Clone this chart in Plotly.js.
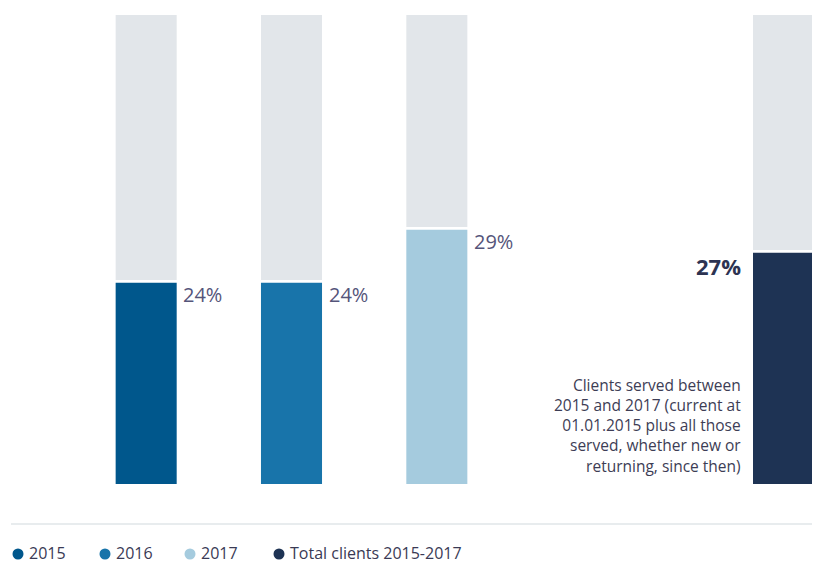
<!DOCTYPE html>
<html>
<head>
<meta charset="utf-8">
<script src="https://cdn.plot.ly/plotly-3.0.1.min.js"></script>
<style>html,body{margin:0;padding:0;background:#fff;}#chart{width:813px;height:564px;}</style>
</head>
<body>
<div id="chart"></div>
<script>
// ---- data ----
const categories = ['2015', '2016', '2017'];
const shareLabels = [24, 24, 29];            // printed percentages
const barFill = [42.9, 42.9, 54.2];          // drawn coloured share of each bar (as read)
const totalCategory = ['Total clients 2015-2017'];
const totalLabel = [27];
const totalFill = [49.3];
const legendLabels = ['2015', '2016', '2017', 'Total clients 2015-2017'];
const noteLines = ['Clients served between', '2015 and 2017 (current at', '01.01.2015 plus all those', 'served, whether new or', 'returning, since then)'];

// ---- styles ----
const colors = ['#00578c', '#1874aa', '#a5cbde'];
const totalColor = '#1e3354';
const grey = '#e2e6ea';
const gap = 0.6;
const W = 813, H = 564;
const font = 'Open Sans, Lato, sans-serif';

const traces = [
  { type: 'bar', x: categories, y: barFill, marker: { color: colors }, width: 0.42,
    xaxis: 'x', yaxis: 'y', hoverinfo: 'none', showlegend: false },
  { type: 'bar', x: categories, y: barFill.map(v => 100 - v - gap), base: barFill.map(v => v + gap),
    marker: { color: grey }, width: 0.42, xaxis: 'x', yaxis: 'y', hoverinfo: 'none', showlegend: false },
  { type: 'bar', x: totalCategory, y: totalFill, marker: { color: totalColor }, width: 1,
    xaxis: 'x2', yaxis: 'y', hoverinfo: 'none', showlegend: false },
  { type: 'bar', x: totalCategory, y: totalFill.map(v => 100 - v - gap), base: totalFill.map(v => v + gap),
    marker: { color: grey }, width: 1, xaxis: 'x2', yaxis: 'y', hoverinfo: 'none', showlegend: false }
];

const annotations = [];
categories.forEach((c, i) => {
  annotations.push({ xref: 'x', yref: 'y', x: i, y: barFill[i], text: shareLabels[i] + '%',
    showarrow: false, xanchor: 'left', yanchor: 'middle', xshift: 35, yshift: -12,
    font: { family: font, size: 20, color: '#55557a' } });
});
annotations.push({ xref: 'x2', yref: 'y', x: 0, y: totalFill[0], text: '<b>' + totalLabel[0] + '%</b>',
  showarrow: false, xanchor: 'right', yanchor: 'middle', xshift: -40, yshift: -13,
  font: { family: font, size: 22, color: '#2d3352' } });
annotations.push({ xref: 'x2', yref: 'y', x: 0, y: 0, text: noteLines.join('<br>'),
  showarrow: false, xanchor: 'right', yanchor: 'bottom', align: 'right', xshift: -40, yshift: 5,
  font: { family: font, size: 15.5, color: '#3d3d55' } });

// legend (custom, round markers)
const legendColors = colors.concat([totalColor]);
const legendMarkerX = [18, 105, 190, 279];
const legendY = 1 - 553 / H;
const shapes = [
  { type: 'line', xref: 'paper', yref: 'paper', x0: 11 / W, x1: 812 / W, y0: 1 - 524 / H, y1: 1 - 524 / H,
    line: { color: '#e8ecee', width: 2 } }
];
legendLabels.forEach((lab, i) => {
  const cx = legendMarkerX[i], cy = 554, r = 5.5;
  shapes.push({ type: 'circle', xref: 'paper', yref: 'paper',
    x0: (cx - r) / W, x1: (cx + r) / W, y0: 1 - (cy + r) / H, y1: 1 - (cy - r) / H,
    fillcolor: legendColors[i], line: { width: 0 } });
  annotations.push({ xref: 'paper', yref: 'paper', x: (cx + r + 3) / W, y: legendY, text: lab,
    showarrow: false, xanchor: 'left', yanchor: 'middle',
    font: { family: font, size: 16, color: '#3a3a55' } });
});

const layout = {
  width: W, height: H,
  margin: { l: 0, r: 0, t: 0, b: 0 },
  paper_bgcolor: '#fff', plot_bgcolor: '#fff',
  barmode: 'overlay',
  showlegend: false,
  xaxis: { domain: [73.5 / W, 509.5 / W], range: [-0.5, 2.5], type: 'category',
    showgrid: false, zeroline: false, showticklabels: false, showline: false },
  xaxis2: { domain: [753 / W, 812 / W], range: [-0.5, 0.5], type: 'category',
    showgrid: false, zeroline: false, showticklabels: false, showline: false, anchor: 'y' },
  yaxis: { domain: [1 - 484 / H, 1 - 15 / H], range: [0, 100],
    showgrid: false, zeroline: false, showticklabels: false, showline: false },
  shapes: shapes,
  annotations: annotations
};

Plotly.newPlot('chart', traces, layout, { displayModeBar: false, staticPlot: true });
</script>
</body>
</html>
